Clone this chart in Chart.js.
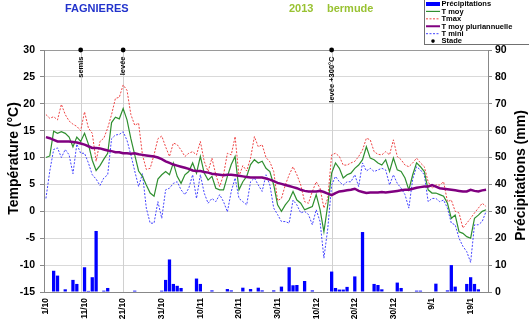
<!DOCTYPE html>
<html>
<head>
<meta charset="utf-8">
<script src="https://cdn.jsdelivr.net/npm/chart.js@4.4.1/dist/chart.umd.min.js"></script>
<style>
    body { margin: 0; background: #fff; }
    #wrap { position: relative; width: 529px; height: 326px; overflow: hidden; font-family: 'Liberation Sans', Arial, sans-serif; }
    #chart { position: absolute; left: 0; top: 0; }
    .ttl { position: absolute; top: 3px; font-weight: bold; font-size: 11px; line-height: 1; }
</style>
</head>
<body>
<div id="wrap">
    <canvas id="chart" width="529" height="326"></canvas>
    <div class="ttl" style="left:65px;color:#2233cc">FAGNIERES</div>
    <div class="ttl" style="left:289px;color:#99c232">2013</div>
    <div class="ttl" style="left:327px;color:#99c232">bermude</div>
</div>
<script>
// days from 1/10 to 23/1
var months = [[10, 31], [11, 30], [12, 31], [1, 23]];
var dates = [];
months.forEach(function (m) {
    for (var d = 1; d <= m[1]; d++) dates.push(d + '/' + m[0]);
});

var tmax = [
    18.0, 17.3, 17.6, 17.0, 19.9, 18.0, 16.8, 16.2, 15.8, 15.0,
    18.5, 15.5, 14.5, 9.3, 13.0, 13.6, 15.5, 18.0, 21.0, 21.2,
    23.5, 22.5, 18.0, 16.0, 16.4, 10.5, 7.8, 8.0, 10.5, 13.5,
    14.0, 12.0, 10.2, 12.7, 12.4, 11.4, 10.2, 10.8, 11.1, 10.5,
    13.0, 9.3, 7.4, 9.9, 6.8, 4.6, 6.8, 10.8, 10.5, 13.9,
    6.5, 8.5, 7.5, 9.9, 13.9, 12.0, 12.4, 10.0, 9.2, 7.4,
    2.0, 2.4, 4.9, 6.8, 8.3, 6.8, 4.9, 1.8, 1.5, 3.7,
    5.5, 4.3, 0.6, 2.4, 10.5, 10.8, 10.2, 8.6, 8.6, 9.0,
    9.3, 10.2, 11.4, 13.6, 13.3, 11.1, 10.6, 10.5, 11.1, 10.5,
    13.3, 10.2, 9.6, 8.6, 8.3, 9.0, 9.9, 9.0, 8.3, 5.5,
    4.3, 4.9, 4.9, 5.5, 1.8, 2.1, 0.0, -0.3, -3.1, -2.2,
    -1.3, -0.3, 0.6, 1.5, 0.9
];
var tmoy = [
    10.0, 10.3, 14.9, 14.5, 14.8, 14.5, 13.8, 12.0, 13.8, 13.0,
    14.5, 12.5, 9.5, 7.6, 8.5, 9.7, 10.8, 16.5, 17.5, 17.2,
    19.1, 17.0, 13.5, 10.5, 7.5, 6.5, 4.9, 3.4, 2.8, 6.0,
    6.8, 7.4, 6.8, 9.0, 6.5, 5.2, 6.8, 7.4, 9.0, 7.1,
    10.2, 7.1, 5.8, 6.5, 4.3, 4.0, 4.0, 6.5, 8.7, 10.2,
    4.0, 5.5, 6.5, 8.7, 9.6, 9.0, 9.3, 8.0, 7.4, 4.9,
    1.2, 0.0, 1.2, 2.1, 3.7, 2.1, 1.5, 0.3, 0.6, 0.9,
    3.1, 0.3, -3.8, 1.2, 7.1, 9.0, 8.0, 6.2, 6.8, 7.1,
    8.0, 8.6, 9.6, 12.0, 9.9, 9.6, 9.0, 8.6, 9.6, 7.4,
    9.9, 7.7, 7.4, 6.2, 4.0, 6.8, 9.0, 8.3, 7.4, 4.0,
    3.4, 3.4, 3.1, 2.8, 1.5, -1.3, -0.7, -3.8, -4.1, -4.7,
    -5.0, -1.3, -0.7, 0.0, 0.3
];
var tmin = [
    2.4, 7.5, 11.5, 11.8, 10.0, 11.5, 10.5, 7.0, 12.5, 10.8,
    10.8, 9.0, 6.8, 6.0, 4.8, 6.2, 6.8, 13.5, 14.2, 14.3,
    14.8, 13.2, 10.5, 7.5, 4.6, 7.0, 0.6, -2.2, -2.2, 1.8,
    -1.3, 4.0, 4.3, 5.2, 5.5, 4.0, 3.1, 4.3, 6.8, 2.4,
    6.8, 3.4, 1.5, 2.4, 1.8, 3.1, 1.8, -0.1, 3.7, 6.2,
    2.4, 1.8, 1.2, 5.5, 6.2, 4.9, 3.7, 6.8, 4.9, 0.6,
    -0.6, -1.9, -1.9, -2.2, 2.1, 1.2, -0.3, 0.0, -0.6, -2.5,
    0.3, -1.9, -8.7, -3.2, 4.9, 6.5, 5.5, 4.9, 5.5, 5.5,
    6.8, 4.6, 9.0, 7.5, 8.0, 7.4, 7.7, 8.0, 7.7, 4.9,
    6.8, 5.2, 4.3, 3.1, 0.6, 6.0, 8.3, 7.7, 6.8, 1.8,
    2.4, 2.4, 1.8, 2.1, 0.6, -2.2, -2.5, -5.0, -6.5, -7.5,
    -9.5, -2.5, -2.5, -1.9, 0.0
];
var tmoyPluri = [
    13.8, 13.6, 13.3, 13.0, 13.0, 13.0, 13.0, 12.9, 12.8, 12.6,
    12.4, 12.1, 11.8, 11.8, 11.7, 11.5, 11.3, 11.2, 11.0, 11.0,
    10.8, 10.8, 10.7, 10.8, 10.6, 10.5, 10.4, 10.3, 10.2, 10.0,
    9.7, 9.3, 9.0, 8.7, 8.5, 8.3, 8.1, 7.9, 7.6, 7.5,
    7.5, 7.3, 7.2, 7.0, 6.9, 6.8, 6.7, 6.8, 6.8, 6.7,
    6.6, 6.5, 6.4, 6.3, 6.3, 6.3, 6.3, 6.1, 5.9, 5.6,
    5.3, 5.1, 4.9, 4.7, 4.5, 4.3, 4.0, 3.8, 3.7, 3.7,
    3.7, 3.8, 3.6, 3.3, 3.0, 3.4, 3.7, 3.8, 3.9, 4.0,
    4.2, 3.8, 3.6, 3.4, 3.5, 3.5, 3.5, 3.6, 3.5, 3.6,
    3.7, 3.8, 3.9, 4.0, 4.0, 4.2, 4.4, 4.5, 4.6, 4.6,
    4.9, 4.6, 4.3, 4.2, 4.1, 4.0, 3.9, 3.8, 3.7, 3.7,
    4.0, 3.8, 3.7, 3.9, 4.0
];
var precip = [
    0, 0, 7.9, 6.1, 0, 1.0, 0, 4.5, 3.0, 0,
    9.2, 0.4, 5.5, 22.7, 0, 0.5, 1.5, 0, 0, 0,
    0, 0, 0, 0.5, 0, 0, 0, 0, 0, 0,
    0.5, 4.5, 12.1, 3.0, 2.3, 1.5, 0, 0, 0, 5.0,
    3.0, 0, 0, 0.6, 0, 0, 0, 1.1, 0.6, 0,
    0, 1.6, 0, 1.1, 0, 1.6, 0.6, 0, 0, 0.6,
    0, 2.0, 0, 9.2, 2.5, 2.6, 0, 4.1, 0, 0.6,
    0, 0, 0, 0, 7.6, 1.5, 0.9, 0.9, 1.9, 0,
    5.8, 0, 22.3, 0, 0, 3.0, 2.6, 1.0, 0, 0,
    0, 3.5, 1.5, 0, 0, 0, 0.5, 0.5, 0, 0,
    0, 3.1, 0, 0, 0.6, 10.0, 2.0, 0, 0, 3.0,
    5.5, 3.0, 1.0, 0, 0
];
// stades : semis 10/10, levée 21/10, levée +300°C 13/12
var stadeIdx = [9, 20, 74];
var stadeNames = ['semis', 'levée', 'levée +300°C'];
var stadeData = dates.map(function (d, i) { return stadeIdx.indexOf(i) >= 0 ? 30 : null; });

var FONT = "'Liberation Sans', Arial, sans-serif";
Chart.defaults.font.family = FONT;
Chart.defaults.color = '#000';

var legendRows = [
    { label: 'Précipitations', kind: 'bar', color: '#0000ff' },
    { label: 'T moy', kind: 'line', color: '#2f8f2f', width: 1.2 },
    { label: 'Tmax', kind: 'line', color: '#ee4444', width: 1, dash: [2, 1.5] },
    { label: 'T moy pluriannuelle', kind: 'line', color: '#800080', width: 2 },
    { label: 'T mini', kind: 'line', color: '#4444ff', width: 1, dash: [2, 1.5] },
    { label: 'Stade', kind: 'dot', color: '#000' }
];

var decor = {
    id: 'decor',
    beforeDatasetsDraw: function (chart) {
        var ctx = chart.ctx, area = chart.chartArea;
        var meta = chart.getDatasetMeta(0);
        ctx.save();
        ctx.strokeStyle = '#d0d0d0';
        ctx.lineWidth = 1;
        stadeIdx.forEach(function (i) {
            var x = Math.round(meta.data[i].x) + 0.5;
            ctx.beginPath();
            ctx.moveTo(x, area.top);
            ctx.lineTo(x, area.bottom);
            ctx.stroke();
        });
        ctx.restore();
    },
    afterDatasetsDraw: function (chart) {
        var ctx = chart.ctx, area = chart.chartArea;
        var meta = chart.getDatasetMeta(0);
        ctx.save();
        ctx.fillStyle = '#000';
        ctx.font = 'bold 7.5px ' + FONT;
        ctx.textAlign = 'right';
        ctx.textBaseline = 'middle';
        stadeIdx.forEach(function (i, k) {
            ctx.save();
            ctx.translate(meta.data[i].x, area.top + 6.5);
            ctx.rotate(-Math.PI / 2);
            ctx.fillText(stadeNames[k], 0, 0);
            ctx.restore();
        });
        ctx.restore();
    },
    afterDraw: function (chart) {
        var ctx = chart.ctx;
        ctx.save();
        // axis titles
        ctx.fillStyle = '#000';
        ctx.font = 'bold 14px ' + FONT;
        ctx.textAlign = 'center';
        ctx.textBaseline = 'middle';
        ctx.save();
        ctx.translate(14.5, 158.5);
        ctx.rotate(-Math.PI / 2);
        ctx.fillText('Température (°C)', 0, 0);
        ctx.restore();
        ctx.save();
        ctx.translate(521.5, 175.5);
        ctx.rotate(-Math.PI / 2);
        ctx.fillText('Précipitations (mm)', 0, 0);
        ctx.restore();

        // legend box
        ctx.fillStyle = '#fff';
        ctx.fillRect(424, -2, 110, 46.5);
        ctx.strokeStyle = '#707070';
        ctx.lineWidth = 1;
        ctx.strokeRect(424.5, -2, 110, 46.5);
        ctx.font = 'bold 7.5px ' + FONT;
        ctx.textAlign = 'left';
        legendRows.forEach(function (r, k) {
            var y = 4 + k * 7.42;
            if (r.kind === 'bar') {
                ctx.fillStyle = r.color;
                ctx.fillRect(426, y - 2, 14, 4);
            } else if (r.kind === 'line') {
                ctx.strokeStyle = r.color;
                ctx.lineWidth = r.width;
                ctx.setLineDash(r.dash || []);
                ctx.beginPath();
                ctx.moveTo(426, y);
                ctx.lineTo(440, y);
                ctx.stroke();
                ctx.setLineDash([]);
            } else {
                ctx.fillStyle = r.color;
                ctx.beginPath();
                ctx.arc(433, y, 1.8, 0, Math.PI * 2);
                ctx.fill();
            }
            ctx.fillStyle = '#000';
            ctx.fillText(r.label, 441.5, y + 0.3);
        });
        ctx.restore();
    }
};

new Chart(document.getElementById('chart'), {
    type: 'bar',
    data: {
        labels: dates,
        datasets: [
            {
                type: 'line', label: 'Stade', data: stadeData, yAxisID: 'y',
                showLine: false, pointRadius: 2.4, pointBackgroundColor: '#000',
                pointBorderWidth: 0, clip: false, order: 1
            },
            {
                type: 'line', label: 'T moy pluriannuelle', data: tmoyPluri, yAxisID: 'y',
                borderColor: '#800080', borderWidth: 2.5, pointRadius: 0, tension: 0, order: 2
            },
            {
                type: 'line', label: 'T moy', data: tmoy, yAxisID: 'y',
                borderColor: '#2f8f2f', borderWidth: 1.2, pointRadius: 0, tension: 0, order: 3
            },
            {
                type: 'line', label: 'T mini', data: tmin, yAxisID: 'y',
                borderColor: '#4444ff', borderWidth: 1, borderDash: [2, 1.5], pointRadius: 0, tension: 0, order: 4
            },
            {
                type: 'line', label: 'Tmax', data: tmax, yAxisID: 'y',
                borderColor: '#ee4444', borderWidth: 1, borderDash: [2, 1.5], pointRadius: 0, tension: 0, order: 5
            },
            {
                type: 'bar', label: 'Précipitations', data: precip, yAxisID: 'y1',
                backgroundColor: '#0000ff', barPercentage: 0.85, categoryPercentage: 1, order: 10
            }
        ]
    },
    options: {
        responsive: false,
        animation: false,
        events: [],
        layout: { padding: { top: 50, left: 0, right: 0, bottom: 0 } },
        plugins: { legend: { display: false }, tooltip: { enabled: false } },
        scales: {
            x: {
                grid: { display: false, drawTicks: false },
                border: { display: true, color: '#888' },
                ticks: {
                    autoSkip: false, maxRotation: 90, minRotation: 90, padding: 6,
                    font: { size: 8.5, weight: 'bold' },
                    callback: function (v, i) { return i % 10 === 0 ? dates[i] : ''; }
                },
                afterFit: function (s) { s.height = 34; }
            },
            y: {
                position: 'left', min: -15, max: 30,
                ticks: { stepSize: 5, padding: 5, font: { size: 10.5, weight: 'bold' } },
                grid: {
                    color: function (c) { return c.tick && c.tick.value === 30 ? '#9a9a9a' : '#d9d9d9'; },
                    tickLength: 4, tickColor: '#888'
                },
                border: { color: '#888' },
                afterFit: function (s) { s.width = 44; }
            },
            y1: {
                position: 'right', min: 0, max: 90,
                ticks: { stepSize: 10, padding: 3, font: { size: 10.5, weight: 'bold' } },
                grid: { drawOnChartArea: false, tickLength: 4, tickColor: '#888' },
                border: { color: '#888' },
                afterFit: function (s) { s.width = 41; }
            }
        }
    },
    plugins: [decor]
});
</script>
</body>
</html>
